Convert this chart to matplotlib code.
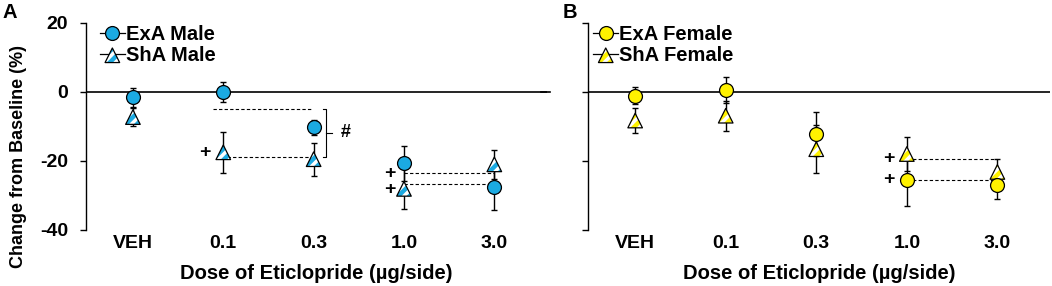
import numpy as np
import matplotlib.pyplot as plt
from matplotlib.lines import Line2D
from matplotlib.legend_handler import HandlerTuple

plt.rcParams['font.family'] = ['Liberation Sans', 'DejaVu Sans']
plt.rcParams['font.weight'] = 'bold'
plt.rcParams['axes.labelweight'] = 'bold'
plt.rcParams['axes.unicode_minus'] = False
plt.rcParams['hatch.linewidth'] = 2.5
plt.rcParams['hatch.color'] = 'white'

doses = ['VEH', '0.1', '0.3', '1.0', '3.0']

# Panel A - males
exa_male = [-1.6, 0.0, -10.3, -20.7, -27.7]
exa_male_sem = [2.8, 3.0, 2.2, 5.0, 6.5]
sha_male = [-7.3, -17.5, -19.5, -28.1, -21.0]
sha_male_sem = [2.7, 6.0, 4.8, 5.8, 4.2]

# Panel B - females
exa_female = [-1.1, 0.6, -12.2, -25.5, -27.0]
exa_female_sem = [2.4, 3.8, 6.5, 7.5, 4.0]
sha_female = [-8.3, -6.9, -16.6, -18.0, -23.2]
sha_female_sem = [3.7, 4.4, 7.0, 5.0, 3.8]

blue = '#1BAAE2'
yellow = '#FFF200'

fig = plt.figure(figsize=(10.52, 2.86), dpi=100)
axA = fig.add_axes([0.0817, 0.196, 0.438, 0.724])
axB = fig.add_axes([0.559, 0.196, 0.439, 0.724])


def draw_panel(ax, exa, exa_sem, sha, sha_sem, color, sex, leg_x):
    x = np.arange(len(doses))
    ax.axhline(0, color='k', lw=1.2, zorder=1)
    ax.errorbar(x, sha, yerr=sha_sem, fmt='none', ecolor='k', elinewidth=1,
                capsize=2.5, capthick=1, zorder=2)
    ax.errorbar(x, exa, yerr=exa_sem, fmt='none', ecolor='k', elinewidth=1,
                capsize=2.5, capthick=1, zorder=2)
    # striped triangles
    tri_fill = ax.scatter(x, sha, s=110, marker='^', facecolor=color,
                          edgecolor='white', hatch='///', linewidths=0.01, zorder=3)
    tri_edge = ax.scatter(x, sha, s=110, marker='^', facecolor='none',
                          edgecolor='k', linewidths=0.9, zorder=3)
    ax.plot(x, exa, 'o', ms=10, mfc=color, mec='k', mew=0.9, zorder=4)

    ax.set_xlim(-0.52, 4.58)
    ax.set_ylim(-40, 20)
    ax.set_yticks([-40, -20, 0, 20])
    ax.set_xticks(x)
    ax.set_xticklabels(doses, fontsize=14)
    ax.tick_params(axis='x', length=0, pad=4)
    ax.tick_params(axis='y', direction='out', length=4, width=1, labelsize=14, pad=9)
    for s in ['top', 'right', 'bottom']:
        ax.spines[s].set_visible(False)
    ax.spines['left'].set_linewidth(1)
    ax.set_xlabel('Dose of Eticlopride (\u00b5g/side)', fontsize=14.5, labelpad=8)

    circ_h = (Line2D([], [], color='k', lw=0.9),
              Line2D([], [], marker='o', ls='none', ms=10, mfc=color, mec='k', mew=0.9))
    tri_h = (Line2D([], [], color='k', lw=0.9), tri_fill, tri_edge)
    ax.legend([circ_h, tri_h], ['ExA ' + sex, 'ShA ' + sex],
              handler_map={tuple: HandlerTuple(ndivide=1)},
              loc='upper left', bbox_to_anchor=(leg_x, 0.99), frameon=False,
              borderpad=0, borderaxespad=0,
              handlelength=1.25, handletextpad=0.05, labelspacing=0.08,
              scatterpoints=1, prop={'weight': 'bold', 'size': 14.5})


def dash(ax, x0, x1, y):
    ax.plot([x0, x1], [y, y], color='k', lw=0.8, ls=(0, (3, 2)), zorder=1.5)


draw_panel(axA, exa_male, exa_male_sem, sha_male, sha_male_sem, blue, 'Male', 0.03)
draw_panel(axB, exa_female, exa_female_sem, sha_female, sha_female_sem, yellow, 'Female', 0.011)

axA.set_ylabel('Change from Baseline (%)', fontsize=13)
axA.yaxis.set_label_coords(-0.127, 0.355)
axB.set_yticklabels([])

# panel A annotations
dash(axA, 0.89, 1.99, -4.9)
dash(axA, 1.04, 2.0, -19.0)
axA.plot([2.1, 2.14, 2.14, 2.1], [-4.9, -4.9, -19.0, -19.0], color='k', lw=0.8)
axA.plot([2.14, 2.2], [-11.9, -11.9], color='k', lw=0.8)
axA.text(2.36, -11.9, '#', fontsize=13, ha='center', va='center')
dash(axA, 3.0, 4.0, -23.5)
dash(axA, 3.0, 4.0, -26.7)
axA.text(0.8, -17.5, '+', fontsize=14, ha='center', va='center')
axA.text(2.84, -23.5, '+', fontsize=14, ha='center', va='center')
axA.text(2.84, -28.4, '+', fontsize=14, ha='center', va='center')
axA.plot([4.52, 4.62], [0, 0], color='k', lw=1.2, clip_on=False)

# panel B annotations
dash(axB, 3.0, 4.0, -19.4)
dash(axB, 3.0, 4.0, -25.5)
axB.text(2.8, -19.4, '+', fontsize=14, ha='center', va='center')
axB.text(2.8, -25.5, '+', fontsize=14, ha='center', va='center')

fig.text(0.002, 0.955, 'A', fontsize=14.5, ha='left', va='center')
fig.text(0.535, 0.955, 'B', fontsize=14.5, ha='left', va='center')

fig.savefig('out.png', dpi=100)
